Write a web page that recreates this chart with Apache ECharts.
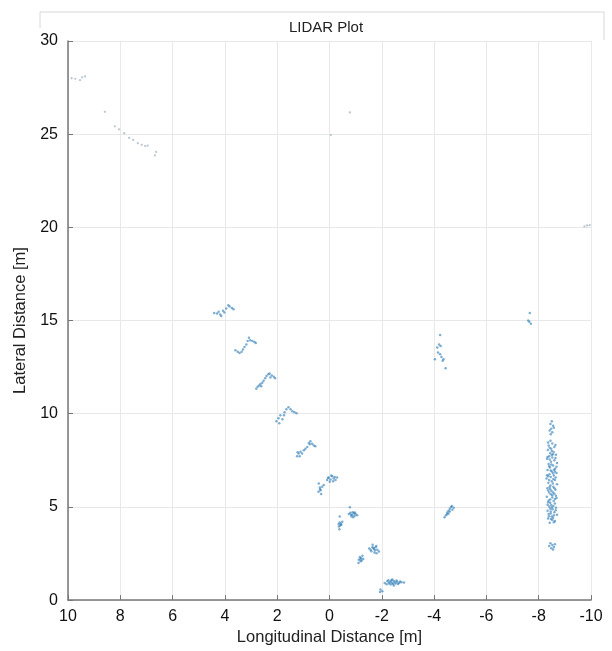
<!DOCTYPE html>
<html>
<head>
<meta charset="utf-8">
<script src="https://cdn.jsdelivr.net/npm/echarts@6/dist/echarts.min.js"></script>
<style>
  html, body { margin: 0; padding: 0; background: #fff; }
  #chart { width: 612px; height: 651px; }
</style>
</head>
<body>
<div id="chart"></div>
<script>
// x = longitudinal [m], y = lateral [m]
const farPoints = [
  [10.03, 27.97], [9.86, 28.0], [9.72, 27.97], [9.54, 27.9], [9.46, 28.05], [9.35, 28.1],
  [8.59, 26.2], [8.21, 25.42], [8.05, 25.26], [7.85, 25.05], [7.66, 24.8], [7.51, 24.69],
  [7.33, 24.52], [7.18, 24.43], [7.05, 24.36], [6.95, 24.39], [6.63, 24.05], [6.68, 23.86],
  [-0.78, 26.17], [-0.05, 24.95],
  [-9.75, 20.05], [-9.85, 20.1], [-9.95, 20.12]
];

const clusterA = [
  [4.41, 15.41], [4.30, 15.38], [4.24, 15.47], [4.18, 15.32], [4.14, 15.25], [4.07, 15.52],
  [4.02, 15.43], [3.95, 15.64], [3.87, 15.82], [3.82, 15.75], [3.73, 15.68], [3.67, 15.61]
];

const clusterB = [
  [3.60, 13.40], [3.51, 13.33], [3.44, 13.26], [3.36, 13.33], [3.31, 13.44], [3.25, 13.58],
  [3.18, 13.72], [3.13, 13.90], [3.08, 14.08], [3.03, 13.94], [2.95, 13.90], [2.87, 13.85],
  [2.82, 13.80]
];

const clusterC = [
  [2.80, 11.34], [2.75, 11.45], [2.69, 11.52], [2.64, 11.59], [2.61, 11.48], [2.57, 11.66],
  [2.52, 11.77], [2.46, 11.91], [2.41, 12.02], [2.34, 12.12], [2.29, 12.16], [2.21, 12.05],
  [2.13, 11.98], [2.08, 11.91], [2.26, 11.95]
];

const clusterD = [
  [2.03, 9.6], [1.95, 9.76], [1.88, 9.92], [1.80, 9.71], [1.72, 10.08], [1.65, 10.24],
  [1.57, 10.35], [1.49, 10.24], [1.42, 10.13], [1.34, 10.08], [1.26, 10.03], [1.92, 9.49],
  [1.74, 9.92]
];

const clusterE = [
  [1.24, 7.72], [1.18, 7.86], [1.11, 7.96], [1.05, 7.86], [0.98, 8.04], [0.92, 8.12],
  [0.85, 8.21], [0.79, 8.43], [0.73, 8.53], [0.66, 8.39], [0.60, 8.30], [0.54, 8.25],
  [1.14, 7.72], [0.75, 8.36], [1.22, 7.93]
];

const clusterF = [
  [0.41, 6.26], [0.37, 6.04], [0.42, 5.81], [0.34, 5.90], [0.28, 6.08], [0.22, 6.17],
  [0.32, 5.69], [0.09, 6.44], [0.03, 6.58], [-0.04, 6.47], [-0.10, 6.65], [-0.16, 6.52],
  [-0.23, 6.44], [-0.29, 6.58], [-0.01, 6.35], [-0.14, 6.38], [-0.07, 6.68],
  [0.06, 6.55], [-0.2, 6.6], [0.36, 5.95]
];

const clusterG = [
  [-0.36, 3.95], [-0.39, 4.16], [-0.45, 4.04], [-0.49, 4.21], [-0.38, 3.80], [-0.41, 4.0],
  [-0.74, 4.62], [-0.80, 4.69], [-0.87, 4.57], [-0.93, 4.66], [-1.00, 4.62], [-1.06, 4.55],
  [-0.91, 4.44], [-0.84, 4.48], [-0.96, 4.52], [-0.78, 4.98], [-0.39, 4.48],
  [-0.89, 4.72], [-0.97, 4.7], [-0.82, 4.58], [-0.44, 4.1], [-0.35, 4.08]
];

const clusterH = [
  [-1.12, 2.17], [-1.16, 2.31], [-1.21, 2.26], [-1.26, 2.38], [-1.19, 2.08], [-1.11, 1.99],
  [-1.29, 2.20], [-1.57, 2.70], [-1.64, 2.84], [-1.70, 2.74], [-1.76, 2.83], [-1.83, 2.70],
  [-1.89, 2.61], [-1.72, 2.56], [-1.65, 2.97], [-1.52, 2.77], [-1.80, 2.52],
  [-1.68, 2.8], [-1.74, 2.68], [-1.79, 2.9], [-1.6, 2.62], [-1.18, 2.2], [-1.23, 2.12]
];

const clusterI = [
  [-2.11, 0.92], [-2.21, 1.01], [-2.27, 0.89], [-2.34, 1.00], [-2.40, 0.92], [-2.46, 1.03],
  [-2.53, 0.89], [-2.59, 0.98], [-2.66, 0.92], [-2.75, 0.96], [-2.34, 0.84], [-2.46, 0.78],
  [-2.18, 0.85], [-2.40, 1.10], [-1.95, 0.57], [-2.02, 0.48], [-1.93, 0.43],
  [-2.3, 0.95], [-2.37, 1.06], [-2.5, 0.96], [-2.56, 1.05], [-2.62, 0.86], [-2.25, 1.06],
  [-2.7, 1.0], [-2.43, 0.86], [-2.85, 0.95]
];

const clusterJ = [
  [-4.23, 14.22], [-4.19, 13.72], [-4.25, 13.64], [-4.15, 13.28], [-4.23, 13.19], [-4.28, 13.05],
  [-4.36, 12.92], [-4.03, 12.92], [-4.33, 12.84], [-4.44, 12.44], [-4.12, 13.55]
];

const clusterK = [[-7.66, 15.41], [-7.60, 15.0], [-7.64, 14.93], [-7.70, 14.83]];

const clusterL = [
  [-4.45, 4.55], [-4.5, 4.7], [-4.55, 4.8], [-4.6, 4.9], [-4.65, 5.0], [-4.7, 4.85],
  [-4.55, 4.65], [-4.75, 4.95], [-4.6, 4.75], [-4.5, 4.6], [-4.4, 4.45], [-4.68, 5.05]
];

const band = [
  [-8.45, 8.55], [-8.52, 8.4], [-8.38, 8.3], [-8.6, 8.22], [-8.48, 8.12], [-8.35, 8.05],
  [-8.57, 7.95], [-8.44, 7.88], [-8.66, 7.8], [-8.4, 7.72], [-8.52, 7.65], [-8.32, 7.58],
  [-8.6, 7.5], [-8.47, 7.42], [-8.7, 7.35], [-8.38, 7.3], [-8.55, 7.22], [-8.43, 7.12],
  [-8.63, 7.05], [-8.34, 6.98], [-8.5, 6.9], [-8.68, 6.82], [-8.41, 6.75], [-8.58, 6.68],
  [-8.46, 6.6], [-8.3, 6.52], [-8.62, 6.45], [-8.5, 6.38], [-8.37, 6.3], [-8.7, 6.22],
  [-8.45, 6.15], [-8.56, 6.08], [-8.33, 6.0], [-8.64, 5.92], [-8.49, 5.85], [-8.4, 5.78],
  [-8.6, 5.7], [-8.52, 5.62], [-8.31, 5.55], [-8.68, 5.48], [-8.44, 5.4], [-8.57, 5.32],
  [-8.36, 5.25], [-8.62, 5.18], [-8.48, 5.1], [-8.4, 5.02], [-8.66, 4.95], [-8.53, 4.88],
  [-8.34, 4.8], [-8.6, 4.72], [-8.46, 4.65], [-8.7, 4.58], [-8.39, 4.5], [-8.55, 4.42],
  [-8.47, 4.35], [-8.62, 4.25], [-8.42, 4.15],
  [-8.5, 8.0], [-8.42, 7.55], [-8.58, 7.0], [-8.36, 6.65], [-8.54, 6.25], [-8.44, 5.95],
  [-8.66, 5.6], [-8.38, 5.35], [-8.5, 4.98], [-8.58, 4.55], [-8.48, 7.28], [-8.62, 6.9],
  [-8.4, 6.45], [-8.52, 5.5], [-8.46, 4.75],
  [-8.36, 8.45], [-8.64, 8.32], [-8.42, 8.18], [-8.55, 7.82], [-8.34, 7.68], [-8.64, 7.62],
  [-8.4, 7.18], [-8.68, 7.15], [-8.46, 6.95], [-8.55, 6.8], [-8.32, 6.7], [-8.65, 6.58],
  [-8.42, 6.05], [-8.6, 6.0], [-8.36, 5.88], [-8.55, 5.78], [-8.46, 5.68], [-8.62, 5.42],
  [-8.34, 5.12], [-8.56, 5.05], [-8.44, 4.9], [-8.65, 4.82], [-8.38, 4.62], [-8.52, 4.3],
  [-8.58, 4.18], [-8.36, 4.38], [-8.5, 7.78], [-8.56, 6.5], [-8.44, 5.22], [-8.5, 4.48]
];

const bandTop = [
  [-8.5, 9.6], [-8.45, 9.45], [-8.55, 9.35], [-8.48, 9.2], [-8.42, 9.1], [-8.52, 9.0],
  [-8.46, 8.9], [-8.58, 9.25]
];

const bandBottom = [
  [-8.45, 3.05], [-8.52, 2.95], [-8.58, 2.85], [-8.48, 2.78], [-8.4, 2.9], [-8.62, 3.0],
  [-8.55, 2.72]
];

const xTicks = [-10, -8, -6, -4, -2, 0, 2, 4, 6, 8, 10];
const yTicks = [0, 5, 10, 15, 20, 25, 30];

const near = [].concat(clusterA, clusterB, clusterC, clusterD, clusterE, clusterF,
  clusterG, clusterH, clusterI, clusterJ, clusterK, clusterL, band, bandTop, bandBottom);

const font = 'Liberation Sans, Arial, Helvetica, sans-serif';
const chart = echarts.init(document.getElementById('chart'));

chart.setOption({
  animation: false,
  title: {
    text: 'LIDAR Plot',
    left: 321, top: 15, textAlign: 'center',
    textStyle: { fontFamily: font, fontSize: 15, fontWeight: 'normal', color: '#222' }
  },
  graphic: [{
    type: 'polyline',
    shape: { points: [[40, 28], [40, 12], [604, 12], [604, 40]] },
    style: { stroke: '#d8d8d8', lineWidth: 1, fill: null }
  }],
  grid: { left: 68, right: 21, top: 41, bottom: 47 },
  xAxis: {
    type: 'value', inverse: true,
    min: xTicks[0], max: xTicks[xTicks.length - 1], interval: 2,
    name: 'Longitudinal Distance [m]', nameLocation: 'middle', nameGap: 26,
    nameTextStyle: { fontFamily: font, fontSize: 16.5, color: '#222' },
    axisLine: { onZero: false, lineStyle: { color: '#777', width: 1.5 } },
    axisTick: { inside: true, length: 5, lineStyle: { color: '#777' } },
    axisLabel: { fontFamily: font, fontSize: 16, color: '#111', margin: 8 },
    splitLine: { show: true, lineStyle: { color: '#e8e8e8' } }
  },
  yAxis: {
    type: 'value', position: 'left',
    min: yTicks[0], max: yTicks[yTicks.length - 1], interval: 5,
    name: 'Lateral Distance [m]', nameLocation: 'middle', nameGap: 37,
    nameTextStyle: { fontFamily: font, fontSize: 16.5, color: '#222' },
    axisLine: { show: true, onZero: false, lineStyle: { color: '#777', width: 1.5 } },
    axisTick: { show: true, inside: true, length: 5, lineStyle: { color: '#777' } },
    axisLabel: { fontFamily: font, fontSize: 16, color: '#111', margin: 10 },
    splitLine: { show: true, lineStyle: { color: '#e8e8e8' } }
  },
  series: [
    {
      type: 'scatter', data: farPoints, symbolSize: 2.3,
      itemStyle: { color: 'rgba(120,150,170,0.65)' }
    },
    {
      type: 'scatter', data: near, symbolSize: 2.5,
      itemStyle: { color: 'rgba(40,120,180,0.75)' }
    }
  ]
});
</script>
</body>
</html>
